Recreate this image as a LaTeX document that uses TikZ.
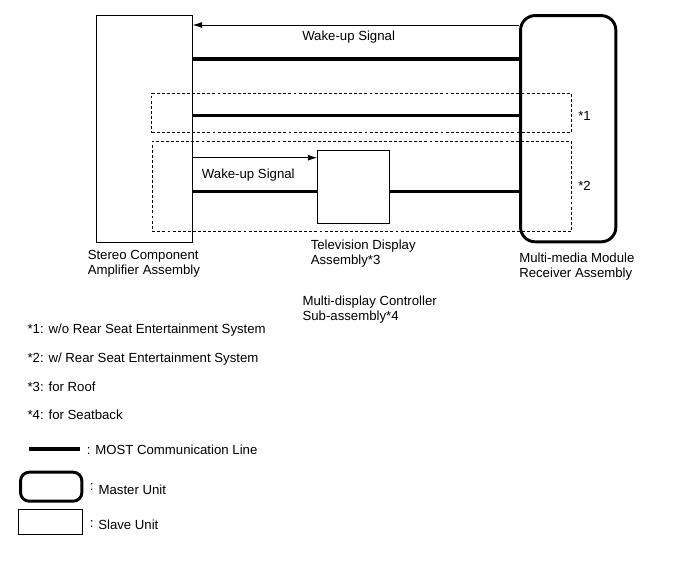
\documentclass[tikz,border=0pt]{standalone}
\usepackage{fontspec}
\setmainfont{Liberation Sans}
\usetikzlibrary{arrows.meta}
\tikzset{
  unit/.style={draw,line width=0.7pt,inner sep=0},
  master/.style={draw,line width=2.2pt,rounded corners=11pt,inner sep=0},
  option/.style={draw,dash pattern=on 2.2pt off 1.6pt,line width=0.7pt,inner sep=0},
  most/.style={line width=2.3pt},
  lbl/.style={inner sep=0,font=\fontsize{9.9}{11.25}\selectfont,align=left,anchor=base west},
  lbltwo/.style={lbl,anchor=north west},
}
\begin{document}
\begin{tikzpicture}[x=0.75pt,y=-0.75pt,>={Latex[length=7pt,width=4.5pt]}]
  \useasboundingbox (0,0) rectangle (689,562);

  \node[option,minimum width=315pt,minimum height=29.55pt](opt1) at (361.7,113) {};
  \node[option,minimum width=314.5pt,minimum height=67.5pt](opt2) at (362,186) {};
  \node[unit,minimum width=72pt,minimum height=170.25pt](amp) at (144.2,128.8) {};
  \node[unit,minimum width=53.7pt,minimum height=54.45pt](tv) at (353.5,187) {};
  \node[master,minimum width=71.5pt,minimum height=169.7pt](recv) at (568.2,128.7) {};

  \draw[->,line width=0.7pt] (recv.west |- 0,25) -- (amp.east |- 0,25);
  \draw[most] (amp.east |- 0,59) -- (recv.west |- 0,59);
  \draw[most] (amp.east |- 0,115.3) -- (recv.west |- 0,115.3);
  \draw[->,line width=0.7pt] (amp.east |- 0,157.7) -- (tv.west |- 0,157.7);
  \draw[most] (amp.east |- 0,191.7) -- (tv.west |- 0,191.7);
  \draw[most] (tv.east |- 0,191.7) -- (recv.west |- 0,191.7);

  \node[lbl](wake1) at (302,40) {Wake-up Signal};
  \node[lbl](wake2) at (201.7,178.3) {Wake-up Signal};
  \node[lbl](note1) at (578,120) {*1};
  \node[lbl](note2) at (578,190) {*2};

  \node[lbltwo](amplbl) at (87.5,250.5) {Stereo Component\\Amplifier Assembly};
  \node[lbltwo](tvlbl) at (310.5,239.5) {Television Display\\Assembly*3};
  \node[lbltwo](recvlbl) at (519,253) {Multi-media Module\\Receiver Assembly};
  \node[lbltwo](mdclbl) at (302.3,296) {Multi-display Controller\\Sub-assembly*4};

  \node[lbl](key1) at (27.3,333.5) {*1: w/o Rear Seat Entertainment System};
  \node[lbl](key2) at (27.3,362.5) {*2: w/ Rear Seat Entertainment System};
  \node[lbl](key3) at (27.3,391) {*3: for Roof};
  \node[lbl](key4) at (27.3,419) {*4: for Seatback};

  \coordinate (mostA) at (29,449);
  \coordinate (mostB) at (80,449);
  \draw[most] (mostA) -- (mostB);
  \node[master,rounded corners=6.5pt,minimum width=46pt,minimum height=21.75pt](mkey) at (51.2,486.7) {};
  \node[unit,minimum width=48pt,minimum height=18.75pt](skey) at (50,521.5) {};

  \node[lbl](c1) at (86.5,454) {:};
  \node[lbl](c2) at (89.5,490) {:};
  \node[lbl](c3) at (89.5,527.5) {:};
  \node[lbl](mostlbl) at (95,454) {MOST Communication Line};
  \node[lbl](mlbl) at (98.3,494) {Master Unit};
  \node[lbl](slbl) at (98,529.3) {Slave Unit};
\end{tikzpicture}
\end{document}
